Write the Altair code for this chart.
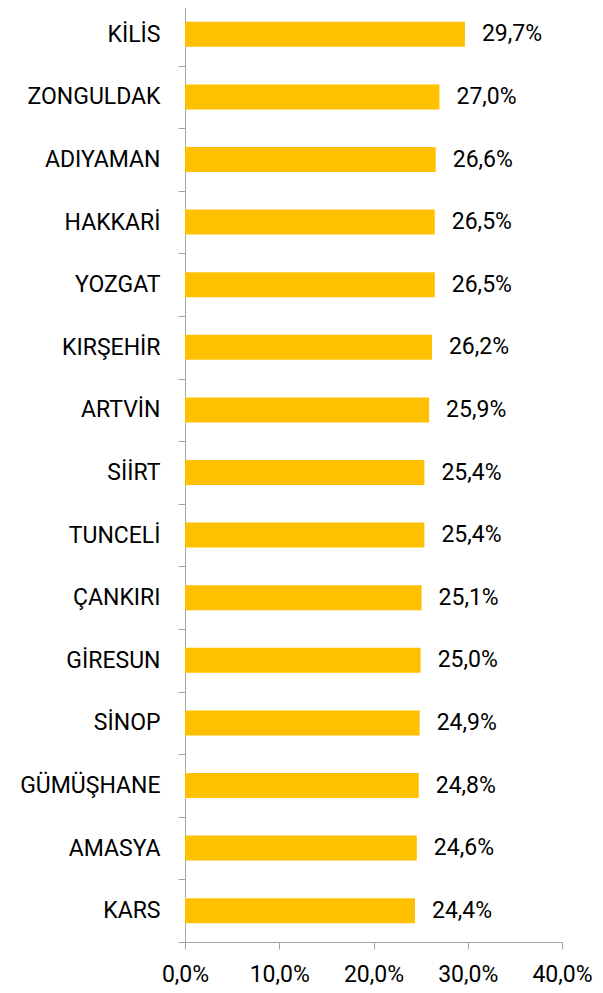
import altair as alt
import pandas as pd

provinces = ["KİLİS", "ZONGULDAK", "ADIYAMAN", "HAKKARİ", "YOZGAT", "KIRŞEHİR", "ARTVİN",
             "SİİRT", "TUNCELİ", "ÇANKIRI", "GİRESUN", "SİNOP", "GÜMÜŞHANE", "AMASYA", "KARS"]
values = [29.7, 27.0, 26.6, 26.5, 26.5, 26.2, 25.9, 25.4, 25.4, 25.1, 25.0, 24.9, 24.8, 24.6, 24.4]
x_ticks = [0, 10, 20, 30, 40]

df = pd.DataFrame({"il": provinces, "oran": values})

FONT = "Roboto"
FS = 23
GRAY = "#A6A6A6"

base = alt.Chart(df).encode(
    y=alt.Y("il:N", sort=provinces, title=None,
            scale=alt.Scale(paddingInner=0, paddingOuter=0),
            axis=alt.Axis(tickBand="extent", tickSize=7, tickColor=GRAY, domainColor=GRAY,
                          labelPadding=18, labelFont=FONT, labelFontSize=FS, labelColor="black",
                          minExtent=177, maxExtent=177, labelLimit=300)),
    x=alt.X("oran:Q", title=None, scale=alt.Scale(domain=[0, 40], nice=False),
            axis=alt.Axis(values=x_ticks, grid=False, tickSize=7, tickColor=GRAY, domainColor=GRAY,
                          labelPadding=14, labelFont=FONT, labelFontSize=FS, labelColor="black",
                          labelFlush=False,
                          labelExpr="replace(format(datum.value, '.1f'), '.', ',') + '%'")),
)

bars = base.mark_bar(color="#FFC000", size=25)
text = base.mark_text(align="left", dx=17, font=FONT, fontSize=FS, color="black").transform_calculate(
    lbl="replace(format(datum.oran, '.1f'), '.', ',') + '%'"
).encode(text="lbl:N")

chart = (bars + text).properties(
    width=377, height=939,
    padding={"left": 0, "top": -16, "right": 0, "bottom": 0},
).configure_view(stroke=None)

chart.save("out.html", embed_options={"renderer": "svg", "actions": False})
